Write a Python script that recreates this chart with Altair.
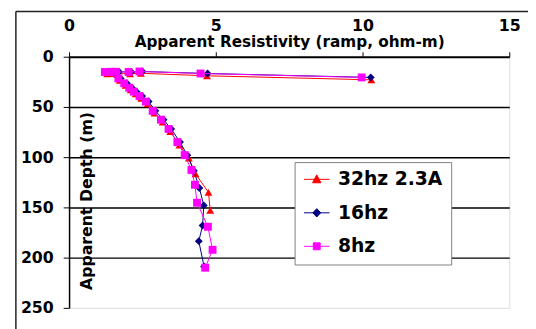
import altair as alt
import pandas as pd

series_names = ["32hz 2.3A", "16hz", "8hz"]
series_colors = ["#FF0000", "#000080", "#FF00FF"]
series_shapes = ["triangle-up", "diamond", "square"]

# Apparent resistivity (ohm-m) and apparent depth (m), in acquisition order
res_32 = [10.30, 4.70, 2.45, 2.08, 1.66, 1.48, 1.30, 1.73, 1.93, 2.10, 2.27, 2.46, 2.68,
          2.91, 3.19, 3.45, 3.76, 4.08, 4.31, 4.75, 4.81]
dep_32 = [23.0, 19.0, 16.5, 17.0, 16.8, 16.8, 17.0, 23.5, 28.5, 33.0, 37.0, 41.5, 47.0,
          56.0, 65.0, 74.5, 88.0, 101.0, 116.7, 135.0, 153.0]

res_16 = [10.28, 4.72, 2.50, 2.12, 1.70, 1.52, 1.36, 1.76, 1.97, 2.14, 2.30, 2.49, 2.71,
          2.94, 3.22, 3.48, 3.78, 4.03, 4.25, 4.44, 4.59, 4.55, 4.42, 4.60]
dep_16 = [20.6, 16.7, 14.7, 15.2, 15.0, 15.0, 15.2, 21.6, 26.5, 30.9, 34.8, 39.2, 44.6,
          53.9, 62.7, 71.9, 85.0, 98.0, 113.4, 130.7, 148.0, 168.0, 183.6, 208.8]

res_8 = [9.97, 4.48, 2.40, 2.03, 1.60, 1.42, 1.22, 1.68, 1.88, 2.05, 2.21, 2.40, 2.62,
         2.85, 3.13, 3.39, 3.69, 3.94, 4.17, 4.29, 4.36, 4.73, 4.89, 4.64]
dep_8 = [20.6, 16.7, 14.7, 15.2, 15.0, 15.0, 15.2, 21.6, 26.5, 30.9, 34.8, 39.2, 44.6,
         53.9, 62.7, 71.9, 85.0, 98.0, 112.7, 127.5, 145.4, 169.3, 192.2, 210.0]

x_ticks = [0, 5, 10, 15]
y_ticks = [0, 50, 100, 150, 200, 250]

rows = []
for name, rs, ds in zip(series_names, [res_32, res_16, res_8], [dep_32, dep_16, dep_8]):
    for i, (r, d) in enumerate(zip(rs, ds)):
        rows.append({"series": name, "res": r, "depth": d, "idx": i})
df = pd.DataFrame(rows)

FONT = "DejaVu Sans"

x_enc = alt.X(
    "res:Q",
    scale=alt.Scale(domain=[0, 15], nice=False, zero=False),
    axis=alt.Axis(
        orient="top", values=x_ticks, title="Apparent Resistivity (ramp, ohm-m)",
        titleFont=FONT, titleFontSize=15.5, titleFontWeight="bold", titleColor="black",
        titleX=223.5, titleY=-10, titleAlign="center", titleBaseline="alphabetic",
        labelFont=FONT, labelFontSize=16, labelFontWeight="bold", labelColor="black",
        labelPadding=19, labelFlush=False, labelAngle=0,
        tickSize=5, tickColor="black", tickWidth=1,
        domainColor="black", domainWidth=2, grid=False,
    ),
)
y_enc = alt.Y(
    "depth:Q",
    scale=alt.Scale(domain=[0, 250], reverse=True, nice=False, zero=False),
    axis=alt.Axis(
        orient="left", values=y_ticks, title="Apparent Depth (m)",
        titleFont=FONT, titleFontSize=16, titleFontWeight="bold", titleColor="black",
        titleAngle=270, titleX=18, titleY=146, titleAlign="center", titleBaseline="middle",
        labelFont=FONT, labelFontSize=16, labelFontWeight="bold", labelColor="black",
        labelPadding=10, labelFlush=False,
        tickSize=6, tickColor="black", tickWidth=1,
        domainColor="black", domainWidth=1.5,
        grid=True, gridWidth=1.5,
        gridColor={"condition": {"test": "datum.value === 0 || datum.value === 250",
                                 "value": "transparent"}, "value": "black"},
    ),
)

layers = []
for name, col, shp in zip(series_names, series_colors, series_shapes):
    sub = alt.Chart(df).transform_filter(alt.datum.series == name)
    layers.append(sub.mark_line(color=col, strokeWidth=1).encode(x=x_enc, y=y_enc, order="idx:Q"))
    layers.append(sub.mark_point(shape=shp, filled=True, color=col, size=64, opacity=1)
                  .encode(x=x_enc, y=y_enc))

legend_paths = [
    "M-2.6,0H2.6M0,-0.9L0.85,0.7L-0.85,0.7Z",
    "M-2.6,0H2.6M0,-0.85L0.8,0L0,0.85L-0.8,0Z",
    "M-2.6,0H2.6M-0.7,-0.7H0.7V0.7H-0.7Z",
]
leg = alt.Legend(
    title=None, orient="none", legendX=229, legendY=107, direction="vertical",
    fillColor="white", strokeColor="#808080", padding=8, cornerRadius=0,
    labelFont=FONT, labelFontSize=19, labelFontWeight="bold", labelColor="black",
    labelOffset=12, symbolOffset=5, symbolSize=100, symbolStrokeWidth=1,
    rowPadding=14, symbolOpacity=1,
)
legend_layer = alt.Chart(df).transform_filter("false").mark_point(
    filled=True, opacity=1, strokeWidth=1, size=100
).encode(
    x=x_enc, y=y_enc,
    color=alt.Color("series:N", scale=alt.Scale(domain=series_names, range=series_colors), legend=leg),
    stroke=alt.Stroke("series:N", scale=alt.Scale(domain=series_names, range=series_colors), legend=leg),
    shape=alt.Shape("series:N", scale=alt.Scale(domain=series_names, range=legend_paths), legend=leg),
)

frame_df = pd.DataFrame({"k": [0]})
frame_top = alt.Chart(frame_df).mark_rule(color="#222222", strokeWidth=1.5).encode(
    x=alt.value(-54), x2=alt.value(480), y=alt.value(-46))
frame_left = alt.Chart(frame_df).mark_rule(color="#222222", strokeWidth=1.5).encode(
    x=alt.value(-54), y=alt.value(-46), y2=alt.value(280))

chart = alt.layer(*layers, legend_layer, frame_top, frame_left).properties(
    width=447, height=255,
    padding={"left": 62, "top": 47, "right": 19, "bottom": 19},
    autosize=alt.AutoSizeParams(type="none"),
).configure_view(stroke="#808080", strokeWidth=1).configure(font=FONT)

chart.save("out.html", embed_options={"renderer": "svg", "actions": False})
